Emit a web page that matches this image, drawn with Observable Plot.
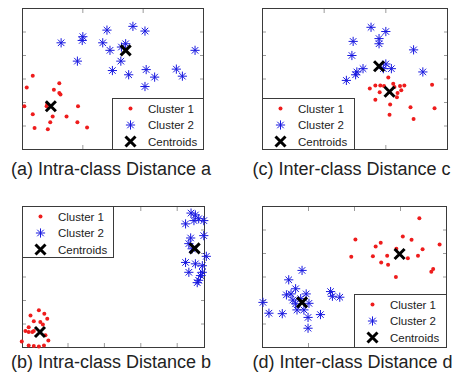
<!DOCTYPE html>
<html>
<head>
<meta charset="utf-8">
<script src="https://cdn.jsdelivr.net/npm/d3@7"></script>
<script src="https://cdn.jsdelivr.net/npm/@observablehq/plot@0.6"></script>
<style>
  html, body { margin: 0; padding: 0; background: #fff; }
  #page { position: relative; width: 459px; height: 376px; overflow: hidden; background: #fff;
          font-family: "Liberation Sans", Arial, sans-serif; }
  #page > svg { position: absolute; }
</style>
</head>
<body>
<div id="page"></div>
<script>
// ---- data: [x, y] pairs per panel ----
// (a) intra-class distance a
const aCluster1 = [[1.7,15.7],[0.7,13.2],[6.1,14.1],[5.2,12.7],[6.1,12.0],[6.3,11.7],[0.3,9.2],[4.1,9.7],[4.0,9.2],[9.2,9.2],[1.7,7.5],[5.0,7.0],[7.3,7.0],[4.6,5.8],[9.1,5.8],[2.0,4.6],[4.2,4.3],[10.7,4.7]];
const aCluster2 = [[6.4,22.7],[10.0,24.0],[9.9,23.2],[14.0,25.4],[18.3,26.2],[20.3,25.2],[13.3,22.7],[14.5,21.1],[16.4,21.8],[17.1,22.5],[9.1,18.8],[16.3,18.8],[14.9,16.8],[17.6,15.9],[20.5,17.0],[21.9,15.4],[25.5,17.1],[26.5,15.6],[28.6,21.1],[20.3,13.4]];
const aCentroids = [[4.7,9.2],[17.1,21.1]];

// (c) inter-class distance c
const cCluster1 = [[20.4,15.3],[17.4,13.0],[18.3,13.6],[19.1,13.6],[19.7,13.5],[21.2,14.0],[21.4,13.3],[22.3,13.5],[23.0,13.6],[22.5,12.6],[19.0,12.2],[21.8,11.1],[18.3,10.6],[20.7,9.6],[24.0,9.0],[20.6,7.4],[24.5,6.5],[27.5,13.8],[27.9,8.8],[21.9,12.0]];
const cCluster2 = [[17.6,26.0],[20.0,25.1],[14.7,23.0],[18.9,23.6],[18.9,22.5],[14.5,20.0],[24.5,21.2],[20.0,18.2],[20.9,17.2],[16.3,17.2],[15.3,16.5],[15.1,15.9],[13.6,14.7],[26.0,16.5],[19.6,17.2]];
const cCentroids = [[20.6,12.3],[18.9,17.7]];

// (b) intra-class distance b
const bCluster1 = [[2.0,7.9],[-0.3,6.8],[3.5,7.2],[4.3,6.1],[0.6,5.6],[2.4,5.4],[3.1,4.9],[-0.8,4.3],[-1.7,3.5],[-0.8,3.3],[0.2,3.3],[0.6,3.5],[3.8,2.6],[-2.7,1.3],[4.6,1.5],[-0.8,0.4],[0.6,0.3],[2.0,0.2],[3.4,0.4]];
const bCluster2 = [[43.8,28.6],[45.0,28.2],[45.9,27.4],[47.3,27.0],[42.3,26.3],[44.6,27.0],[43.7,23.3],[47.3,23.8],[43.2,22.1],[44.1,21.0],[48.0,19.4],[42.3,18.1],[45.0,17.8],[46.9,17.4],[43.2,16.0],[46.9,16.0],[46.4,15.3],[45.9,14.3],[45.5,13.8]];
const bCentroids = [[2.3,3.3],[44.8,21.1]];

// (d) inter-class distance d
const dCluster1 = [[34.1,27.5],[20.2,23.0],[30.5,23.6],[32.4,22.9],[25.7,22.3],[24.6,21.5],[38.5,21.9],[29.1,21.0],[34.8,20.9],[19.3,19.3],[24.0,19.4],[27.1,19.5],[31.6,19.0],[33.8,19.5],[25.8,18.1],[27.3,17.6],[37.1,16.7],[36.7,16.1],[29.0,15.0]];
const dCluster2 = [[8.6,16.4],[5.7,14.4],[7.2,12.5],[5.2,11.2],[6.2,11.4],[6.6,10.1],[9.5,11.4],[14.8,11.9],[15.2,10.9],[16.8,10.7],[0.1,9.6],[10.1,9.4],[7.5,8.0],[1.4,7.3],[4.3,7.2],[9.0,8.0],[9.9,6.4],[12.6,7.0],[9.9,4.1],[8.3,10.4],[7.2,9.3]];
const dCentroids = [[29.8,19.9],[8.6,9.6]];

// tick positions
const ticks3 = [0, 10, 20, 30];
const ticks4 = [0, 10, 20, 30, 40];
const ticksB = [10, 20, 30, 40];
const ticksY = [0, 5, 10, 15, 20, 25, 30];

const legendLabels = ["Cluster 1", "Cluster 2", "Centroids"];
const captions = ["(a) Intra-class Distance a", "(c) Inter-class Distance c",
                  "(b) Intra-class Distance b", "(d) Inter-class Distance d"];

// ---- marker shapes ----
const RED = "#ee1c1c", BLUE = "#1818e0";
const asterisk = {
  draw(ctx, size) {
    const r = Math.sqrt(size / Math.PI), d = r * Math.SQRT1_2;
    ctx.moveTo(-r, 0); ctx.lineTo(r, 0);
    ctx.moveTo(0, -r); ctx.lineTo(0, r);
    ctx.moveTo(-d, -d); ctx.lineTo(d, d);
    ctx.moveTo(-d, d); ctx.lineTo(d, -d);
  }
};
const cross = {
  draw(ctx, size) {
    const r = Math.sqrt(size / Math.PI);
    ctx.moveTo(-r, -r); ctx.lineTo(r, r);
    ctx.moveTo(-r, r); ctx.lineTo(r, -r);
  }
};

const M = 8; // room around each frame for markers on the edge
const page = document.getElementById("page");

function panel({c1, c2, cent, xDomain, yDomain, xTicks, yTicks, left, top, w, h, legend}) {
  const tickStyle = {tickSize: -4, tickFormat: () => "", label: null, stroke: "#9a9a9a"};
  const chart = Plot.plot({
    width: w + 2 * M, height: h + 2 * M, margin: M,
    style: {background: "transparent", overflow: "visible"},
    x: {domain: xDomain}, y: {domain: yDomain},
    marks: [
      Plot.axisX({...tickStyle, ticks: xTicks, anchor: "bottom"}),
      Plot.axisX({...tickStyle, ticks: xTicks, anchor: "top"}),
      Plot.axisY({...tickStyle, ticks: yTicks, anchor: "left"}),
      Plot.axisY({...tickStyle, ticks: yTicks, anchor: "right"}),
      Plot.frame({stroke: "#3a3a3a", strokeWidth: 1}),
      Plot.dot(c1, {x: d => d[0], y: d => d[1], r: 2, fill: RED, stroke: "none"}),
      Plot.dot(c2, {x: d => d[0], y: d => d[1], r: 4.6, symbol: asterisk, fill: "none", stroke: BLUE, strokeWidth: 1}),
      Plot.dot(cent, {x: d => d[0], y: d => d[1], r: 5, symbol: cross, fill: "none", stroke: "#000", strokeWidth: 3})
    ]
  });
  chart.style.left = (left - M) + "px";
  chart.style.top = (top - M) + "px";
  page.appendChild(chart);
  drawLegend(legend);
}

function drawLegend({left, top, w, h}) {
  const svg = d3.create("svg").attr("width", w + 1).attr("height", h + 1)
    .style("left", left + "px").style("top", top + "px");
  svg.append("rect").attr("x", 0.5).attr("y", 0.5).attr("width", w).attr("height", h)
    .attr("fill", "#fff").attr("stroke", "#3a3a3a");
  const rowY = [10.5, 27, 43.5];
  const icon = [
    g => g.append("circle").attr("r", 2).attr("fill", RED),
    g => g.append("path").attr("d", d3.symbol(asterisk, Math.PI * 4.6 * 4.6)()).attr("fill", "none").attr("stroke", BLUE),
    g => g.append("path").attr("d", d3.symbol(cross, Math.PI * 5 * 5)()).attr("fill", "none").attr("stroke", "#000").attr("stroke-width", 3)
  ];
  legendLabels.forEach((label, i) => {
    const g = svg.append("g").attr("transform", `translate(18.5,${rowY[i]})`);
    icon[i](g);
    svg.append("text").attr("x", 36).attr("y", rowY[i]).attr("dy", "0.36em")
      .attr("font-size", 11.5).attr("fill", "#222")
      .attr("font-family", "'Liberation Sans', Arial, sans-serif").text(label);
  });
  page.appendChild(svg.node());
}

panel({c1: aCluster1, c2: aCluster2, cent: aCentroids, xDomain: [0, 30], yDomain: [0, 30],
       xTicks: ticks3, yTicks: ticksY, left: 22, top: 8, w: 181, h: 141,
       legend: {left: 112, top: 98, w: 91, h: 51}});
panel({c1: cCluster1, c2: cCluster2, cent: cCentroids, xDomain: [0, 30], yDomain: [0, 30],
       xTicks: ticks3, yTicks: ticksY, left: 262, top: 8, w: 185, h: 141,
       legend: {left: 262, top: 98, w: 92, h: 51}});
panel({c1: bCluster1, c2: bCluster2, cent: bCentroids, xDomain: [-2.5, 47.5], yDomain: [0, 30],
       xTicks: ticksB, yTicks: ticksY, left: 22, top: 206, w: 182, h: 141,
       legend: {left: 22, top: 206, w: 91, h: 51}});
panel({c1: dCluster1, c2: dCluster2, cent: dCentroids, xDomain: [0, 40], yDomain: [0, 30],
       xTicks: ticks4, yTicks: ticksY, left: 262, top: 206, w: 184, h: 141,
       legend: {left: 354, top: 294, w: 92, h: 53}});

// captions under each panel
const capSvg = d3.create("svg").attr("width", 459).attr("height", 376)
  .style("left", "0px").style("top", "0px").style("pointer-events", "none");
const capPos = [[11, 175], [252.5, 175], [11, 367.5], [252.5, 367.5]];
captions.forEach((t, i) => {
  capSvg.append("text").attr("x", capPos[i][0]).attr("y", capPos[i][1])
    .attr("font-size", 18).attr("fill", "#222")
    .attr("font-family", "'Liberation Sans', Arial, sans-serif").text(t);
});
page.appendChild(capSvg.node());
</script>
</body>
</html>
